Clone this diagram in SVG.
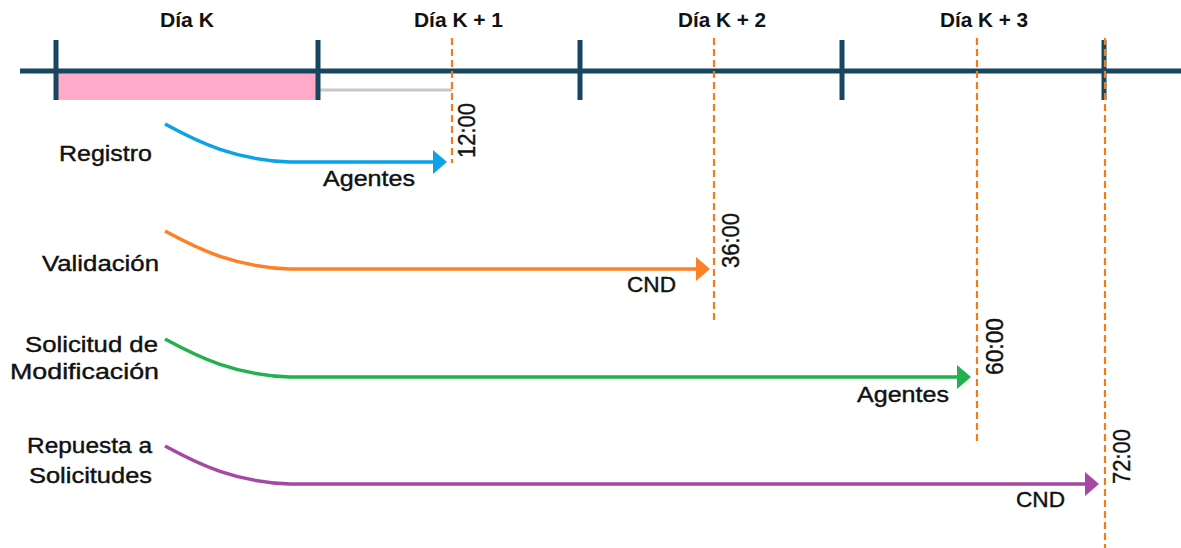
<svg xmlns="http://www.w3.org/2000/svg" width="1181" height="548" viewBox="0 0 1181 548">
<style>
  text { font-family: "Liberation Sans", Arial, sans-serif; fill: #111; }
  .day { font-size: 20px; font-weight: bold; text-anchor: start; }
  .lbl { font-size: 22px; stroke: #111; stroke-width: 0.4; }
  .time { font-size: 23px; stroke: #111; stroke-width: 0.4; }
  .axis { stroke: #174760; stroke-width: 5; fill: none; }
  .tick { stroke: #174760; stroke-width: 5; }
  .dash { stroke: #F07C1E; stroke-width: 2.2; stroke-dasharray: 7 4; fill: none; }
  .flow { fill: none; stroke-width: 3.5; }
</style>
<rect width="1181" height="548" fill="#ffffff"/>

<g id="timeline">
  <rect x="57" y="73" width="261" height="27" fill="#FFAAC9"/>
  <line x1="320" y1="90" x2="452" y2="90" stroke="#C8C8C8" stroke-width="3"/>
  <line class="axis" x1="20" y1="71" x2="1181" y2="71"/>
  <line class="tick" x1="56" y1="40" x2="56" y2="100"/>
  <line class="tick" x1="318" y1="40" x2="318" y2="100"/>
  <line class="tick" x1="580" y1="40" x2="580" y2="100"/>
  <line class="tick" x1="842" y1="40" x2="842" y2="100"/>
  <line class="tick" x1="1104" y1="40" x2="1104" y2="100"/>
  <text class="day" x="160" y="27" textLength="54" lengthAdjust="spacingAndGlyphs">Día K</text>
  <text class="day" x="414" y="27" textLength="89" lengthAdjust="spacingAndGlyphs">Día K + 1</text>
  <text class="day" x="678" y="27" textLength="88" lengthAdjust="spacingAndGlyphs">Día K + 2</text>
  <text class="day" x="940" y="27" textLength="88" lengthAdjust="spacingAndGlyphs">Día K + 3</text>
</g>

<g id="deadlines">
  <line class="dash" x1="452" y1="38" x2="452" y2="163"/>
  <line class="dash" x1="714" y1="38" x2="714" y2="324"/>
  <line class="dash" x1="977" y1="38" x2="977" y2="443"/>
  <line class="dash" x1="1105" y1="38" x2="1105" y2="548"/>
  <text class="time" transform="translate(475,158) rotate(-90)" textLength="55" lengthAdjust="spacingAndGlyphs">12:00</text>
  <text class="time" transform="translate(739,268) rotate(-90)" textLength="55" lengthAdjust="spacingAndGlyphs">36:00</text>
  <text class="time" transform="translate(1003,375) rotate(-90)" textLength="57" lengthAdjust="spacingAndGlyphs">60:00</text>
  <text class="time" transform="translate(1130,484) rotate(-90)" textLength="55" lengthAdjust="spacingAndGlyphs">72:00</text>
</g>

<g id="registro">
  <text class="lbl" x="59" y="161" textLength="93" lengthAdjust="spacingAndGlyphs">Registro</text>
  <text class="lbl" x="323" y="186" textLength="92" lengthAdjust="spacingAndGlyphs">Agentes</text>
</g>
<g id="validacion">
  <text class="lbl" x="42" y="271" textLength="117" lengthAdjust="spacingAndGlyphs">Validación</text>
  <text class="lbl" x="627" y="292" textLength="49" lengthAdjust="spacingAndGlyphs">CND</text>
</g>
<g id="solicitud">
  <text class="lbl" x="25" y="352" textLength="133" lengthAdjust="spacingAndGlyphs">Solicitud de</text>
  <text class="lbl" x="10" y="379" textLength="149" lengthAdjust="spacingAndGlyphs">Modificación</text>
  <text class="lbl" x="857" y="402" textLength="92" lengthAdjust="spacingAndGlyphs">Agentes</text>
</g>
<g id="respuesta">
  <text class="lbl" x="27" y="453" textLength="125" lengthAdjust="spacingAndGlyphs">Repuesta a</text>
  <text class="lbl" x="29" y="483" textLength="123" lengthAdjust="spacingAndGlyphs">Solicitudes</text>
  <text class="lbl" x="1016" y="507" textLength="49" lengthAdjust="spacingAndGlyphs">CND</text>
</g>

<g id="connectors">
  <path class="flow" stroke="#0BA3E5" d="M165,124 C200,143 235,160 290,162 L434,162"/>
  <polygon fill="#0BA3E5" points="433,150 447,162 433,174"/>
  <path class="flow" stroke="#FF7F27" d="M165,231 C200,250 235,267 290,269 L697,269"/>
  <polygon fill="#FF7F27" points="696,257 710,269 696,281"/>
  <path class="flow" stroke="#22B14C" d="M165,339 C200,358 235,375 290,377 L958,377"/>
  <polygon fill="#22B14C" points="957,365 971,377 957,389"/>
  <path class="flow" stroke="#A349A4" d="M165,446 C200,465 235,482 290,484 L1086,484"/>
  <polygon fill="#A349A4" points="1085,472 1099,484 1085,496"/>
</g>
</svg>
